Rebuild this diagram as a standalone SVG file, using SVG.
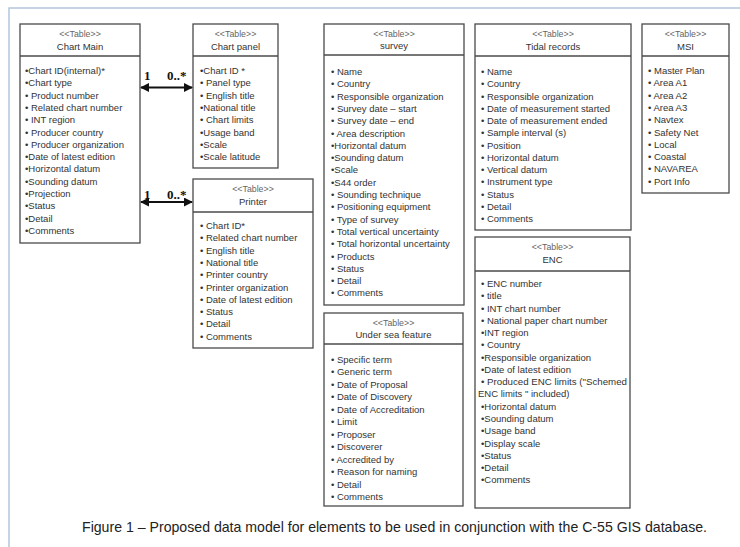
<svg xmlns="http://www.w3.org/2000/svg" width="740" height="547" viewBox="0 0 740 547">
<style>
.box{fill:#fff;stroke:#4a4a4a;stroke-width:1.3}
.div{stroke:#4a4a4a;stroke-width:1.3}
.st{font-family:"Liberation Sans",Arial,sans-serif;font-size:8.8px;fill:#666;text-anchor:middle}
.ti{font-family:"Liberation Sans",Arial,sans-serif;font-size:9.5px;fill:#333;text-anchor:middle}
.it{font-family:"Liberation Sans",Arial,sans-serif;font-size:9.5px;fill:#333}
.ml{font-family:"Liberation Serif","Times New Roman",serif;font-size:13px;font-weight:bold;fill:#111}
.cap{font-family:"Liberation Sans",Arial,sans-serif;font-size:14.5px;fill:#222}
.con{stroke:#111;stroke-width:2;fill:none;marker-start:url(#ah);marker-end:url(#ah)}
</style>
<defs>
<marker id="ah" viewBox="0 0 10 10" refX="9" refY="5" markerWidth="4.5" markerHeight="4.5" orient="auto-start-reverse" markerUnits="strokeWidth">
<path d="M0,0 L10,5 L0,10 z" fill="#111"/>
</marker>
</defs>
<rect x="0" y="0" width="740" height="547" fill="#fff"/>
<path d="M9,547 V8 H740" fill="none" stroke="#b3c6dc" stroke-width="1.5"/>

<g id="chart-main">
<rect class="box" x="20" y="24" width="120" height="219"/>
<line class="div" x1="20" y1="56" x2="140" y2="56"/>
<text class="st" x="80" y="37">&lt;&lt;Table&gt;&gt;</text>
<text class="ti" x="80" y="50">Chart Main</text>
<text class="it" x="25" y="74">•Chart ID(internal)*</text>
<text class="it" x="25" y="86.3">•Chart type</text>
<text class="it" x="25" y="98.6">• Product number</text>
<text class="it" x="25" y="110.9">• Related chart number</text>
<text class="it" x="25" y="123.2">• INT region</text>
<text class="it" x="25" y="135.5">• Producer country</text>
<text class="it" x="25" y="147.8">• Producer organization</text>
<text class="it" x="25" y="160.1">•Date of latest edition</text>
<text class="it" x="25" y="172.4">•Horizontal datum</text>
<text class="it" x="25" y="184.7">•Sounding datum</text>
<text class="it" x="25" y="197">•Projection</text>
<text class="it" x="25" y="209.3">•Status</text>
<text class="it" x="25" y="221.6">•Detail</text>
<text class="it" x="25" y="233.9">•Comments</text>
</g>

<g id="chart-panel">
<rect class="box" x="193" y="24" width="85" height="144"/>
<line class="div" x1="193" y1="56" x2="278" y2="56"/>
<text class="st" x="235.5" y="37">&lt;&lt;Table&gt;&gt;</text>
<text class="ti" x="235.5" y="50">Chart panel</text>
<text class="it" x="200" y="74">•Chart ID *</text>
<text class="it" x="200" y="86.3">• Panel type</text>
<text class="it" x="200" y="98.6">• English title</text>
<text class="it" x="200" y="110.9">•National title</text>
<text class="it" x="200" y="123.2">• Chart limits</text>
<text class="it" x="200" y="135.5">•Usage band</text>
<text class="it" x="200" y="147.8">•Scale</text>
<text class="it" x="200" y="160.1">•Scale latitude</text>
</g>

<g id="printer">
<rect class="box" x="193" y="179" width="120" height="169"/>
<line class="div" x1="193" y1="212" x2="313" y2="212"/>
<text class="st" x="253" y="192">&lt;&lt;Table&gt;&gt;</text>
<text class="ti" x="253" y="205">Printer</text>
<text class="it" x="200" y="229">• Chart ID*</text>
<text class="it" x="200" y="241.3">• Related chart number</text>
<text class="it" x="200" y="253.6">• English title</text>
<text class="it" x="200" y="265.9">• National title</text>
<text class="it" x="200" y="278.2">• Printer country</text>
<text class="it" x="200" y="290.5">• Printer  organization</text>
<text class="it" x="200" y="302.8">• Date of latest edition</text>
<text class="it" x="200" y="315.1">• Status</text>
<text class="it" x="200" y="327.4">• Detail</text>
<text class="it" x="200" y="339.7">• Comments</text>
</g>

<g id="survey">
<rect class="box" x="324" y="24" width="140" height="281"/>
<line class="div" x1="324" y1="55" x2="464" y2="55"/>
<text class="st" x="394" y="37">&lt;&lt;Table&gt;&gt;</text>
<text class="ti" x="394" y="49">survey</text>
<text class="it" x="331" y="75">• Name</text>
<text class="it" x="331" y="87.3">• Country</text>
<text class="it" x="331" y="99.6">• Responsible organization</text>
<text class="it" x="331" y="111.9">• Survey date – start</text>
<text class="it" x="331" y="124.2">• Survey date – end</text>
<text class="it" x="331" y="136.5">• Area description</text>
<text class="it" x="331" y="148.8">•Horizontal datum</text>
<text class="it" x="331" y="161.1">•Sounding datum</text>
<text class="it" x="331" y="173.4">•Scale</text>
<text class="it" x="331" y="185.7">•S44 order</text>
<text class="it" x="331" y="198">• Sounding technique</text>
<text class="it" x="331" y="210.3">• Positioning equipment</text>
<text class="it" x="331" y="222.6">• Type of survey</text>
<text class="it" x="331" y="234.9">• Total vertical uncertainty</text>
<text class="it" x="331" y="247.2">• Total horizontal uncertainty</text>
<text class="it" x="331" y="259.5">•  Products</text>
<text class="it" x="331" y="271.8">•  Status</text>
<text class="it" x="331" y="284.1">•  Detail</text>
<text class="it" x="331" y="296.4">•  Comments</text>
</g>

<g id="under-sea-feature">
<rect class="box" x="324" y="313" width="139" height="193"/>
<line class="div" x1="324" y1="344" x2="463" y2="344"/>
<text class="st" x="393.5" y="326">&lt;&lt;Table&gt;&gt;</text>
<text class="ti" x="393.5" y="338">Under sea feature</text>
<text class="it" x="331" y="363">• Specific term</text>
<text class="it" x="331" y="375.45">• Generic term</text>
<text class="it" x="331" y="387.9">• Date of Proposal</text>
<text class="it" x="331" y="400.35">• Date of Discovery</text>
<text class="it" x="331" y="412.8">• Date of Accreditation</text>
<text class="it" x="331" y="425.25">• Limit</text>
<text class="it" x="331" y="437.7">• Proposer</text>
<text class="it" x="331" y="450.15">• Discoverer</text>
<text class="it" x="331" y="462.6">• Accredited by</text>
<text class="it" x="331" y="475.05">• Reason for naming</text>
<text class="it" x="331" y="487.5">•  Detail</text>
<text class="it" x="331" y="499.95">• Comments</text>
</g>

<g id="tidal-records">
<rect class="box" x="475" y="24" width="156" height="206"/>
<line class="div" x1="475" y1="56" x2="631" y2="56"/>
<text class="st" x="553" y="37">&lt;&lt;Table&gt;&gt;</text>
<text class="ti" x="553" y="50">Tidal records</text>
<text class="it" x="481" y="75">• Name</text>
<text class="it" x="481" y="87.25">• Country</text>
<text class="it" x="481" y="99.5">• Responsible organization</text>
<text class="it" x="481" y="111.75">• Date of measurement started</text>
<text class="it" x="481" y="124">• Date of measurement ended</text>
<text class="it" x="481" y="136.25">• Sample interval (s)</text>
<text class="it" x="481" y="148.5">• Position</text>
<text class="it" x="481" y="160.75">• Horizontal datum</text>
<text class="it" x="481" y="173">• Vertical datum</text>
<text class="it" x="481" y="185.25">• Instrument type</text>
<text class="it" x="481" y="197.5">• Status</text>
<text class="it" x="481" y="209.75">• Detail</text>
<text class="it" x="481" y="222">• Comments</text>
</g>

<g id="enc">
<rect class="box" x="475" y="237" width="155" height="271"/>
<line class="div" x1="475" y1="271" x2="630" y2="271"/>
<text class="st" x="552.5" y="250">&lt;&lt;Table&gt;&gt;</text>
<text class="ti" x="552.5" y="263">ENC</text>
<text class="it" x="481" y="287">• ENC number</text>
<text class="it" x="481" y="299.27">• title</text>
<text class="it" x="481" y="311.54">• INT chart number</text>
<text class="it" x="481" y="323.81">• National paper chart number</text>
<text class="it" x="481" y="336.08">•INT region</text>
<text class="it" x="481" y="348.35">• Country</text>
<text class="it" x="481" y="360.62">•Responsible organization</text>
<text class="it" x="481" y="372.89">•Date of latest edition</text>
<text class="it" x="481" y="385.16" textLength="146" lengthAdjust="spacingAndGlyphs">• Produced ENC limits ("Schemed</text>
<text class="it" x="478" y="397.43">ENC limits " included)</text>
<text class="it" x="481" y="409.7">•Horizontal datum</text>
<text class="it" x="481" y="421.97">•Sounding datum</text>
<text class="it" x="481" y="434.24">•Usage band</text>
<text class="it" x="481" y="446.51">•Display scale</text>
<text class="it" x="481" y="458.78">•Status</text>
<text class="it" x="481" y="471.05">•Detail</text>
<text class="it" x="481" y="483.32">•Comments</text>
</g>

<g id="msi">
<rect class="box" x="642" y="24" width="87" height="169"/>
<line class="div" x1="642" y1="56" x2="729" y2="56"/>
<text class="st" x="685.5" y="37">&lt;&lt;Table&gt;&gt;</text>
<text class="ti" x="685.5" y="50">MSI</text>
<text class="it" x="648" y="74">• Master Plan</text>
<text class="it" x="648" y="86.3">• Area A1</text>
<text class="it" x="648" y="98.6">• Area A2</text>
<text class="it" x="648" y="110.9">• Area A3</text>
<text class="it" x="648" y="123.2">• Navtex</text>
<text class="it" x="648" y="135.5">• Safety Net</text>
<text class="it" x="648" y="147.8">• Local</text>
<text class="it" x="648" y="160.1">• Coastal</text>
<text class="it" x="648" y="172.4">• NAVAREA</text>
<text class="it" x="648" y="184.7">• Port Info</text>
</g>

<g id="connectors">
<line class="con" x1="141" y1="87.5" x2="192" y2="87.5"/>
<text class="ml" x="144" y="80">1</text>
<text class="ml" x="167" y="80" font-weight="normal">0..*</text>
<line class="con" x1="141" y1="202" x2="192" y2="202"/>
<text class="ml" x="144" y="199">1</text>
<text class="ml" x="167" y="199" font-weight="normal">0..*</text>
</g>

<text class="cap" x="82" y="532" textLength="625" lengthAdjust="spacingAndGlyphs">Figure 1 – Proposed data model for elements to be used in conjunction with the C-55 GIS database.</text>
</svg>
